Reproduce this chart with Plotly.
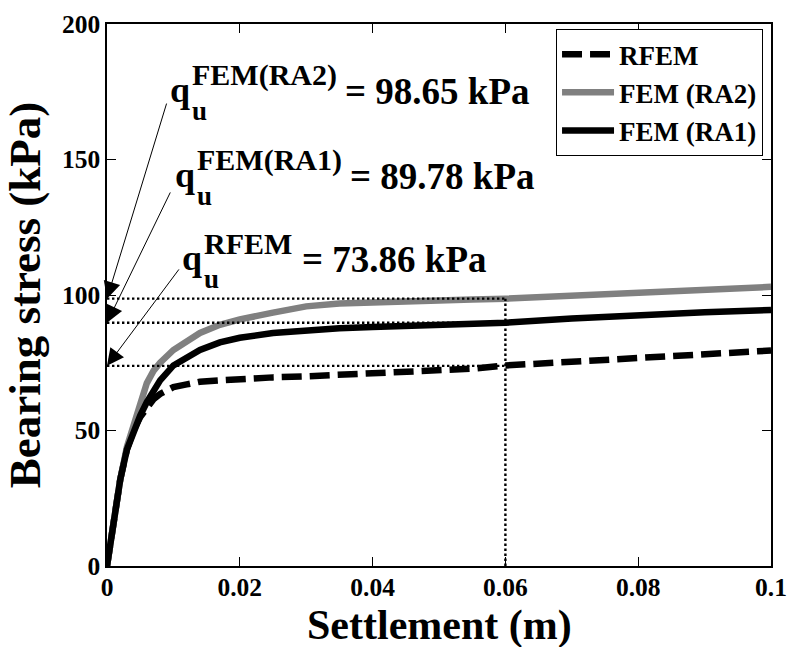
import plotly.graph_objects as go

# ---------------- data ----------------
settlement = [0, 0.001, 0.002, 0.003, 0.004, 0.005, 0.006, 0.007, 0.008, 0.01,
              0.012, 0.014, 0.017, 0.02, 0.025, 0.03, 0.035, 0.04, 0.05, 0.055,
              0.06, 0.07, 0.08, 0.09, 0.1]
rfem = [0, 16.5, 32, 43, 50, 55, 58.5, 61.5, 63.5, 66,
        67, 68, 68.5, 69, 69.6, 70, 70.5, 71, 72, 72.8,
        74, 75.5, 76.7, 78, 79.5]
fem_ra2 = [0, 16.5, 32, 44, 52.5, 61, 67.5, 72, 75, 79.7,
           83, 86, 89, 91, 93.5, 95.8, 96.9, 97.4, 98, 98.3,
           98.65, 99.8, 101, 102, 103]
fem_ra1 = [0, 16.5, 32, 43, 50, 55.5, 60.5, 65, 68.5, 74,
           77, 79.7, 82.5, 84.2, 86, 87.1, 87.7, 88.2, 89, 89.4,
           89.78, 91.3, 92.6, 93.6, 94.5]

series_names = ["RFEM", "FEM (RA2)", "FEM (RA1)"]
q_labels = ["FEM(RA2)", "FEM(RA1)", "RFEM"]
q_values = [98.65, 89.78, 73.86]
s_ref = 0.06

x_ticks = [0, 0.02, 0.04, 0.06, 0.08, 0.1]
y_ticks = [0, 50, 100, 150, 200]
x_title = "Settlement (m)"
y_title = "Bearing stress (kPa)"

FONT = "Liberation Serif, Times New Roman, serif"

fig = go.Figure()

styles = [dict(color="black", width=6.5, dash="20px,8px"),
          dict(color="#808080", width=6.5),
          dict(color="black", width=6.5)]
for name, ys, st in zip(series_names, [rfem, fem_ra2, fem_ra1], styles):
    fig.add_trace(go.Scatter(x=settlement, y=ys, mode="lines", name=name,
                             line=st))

# dotted reference lines
dot = dict(color="black", width=2.4, dash="2.4px,2.6px")
for q in q_values:
    fig.add_trace(go.Scatter(x=[0, s_ref], y=[q, q], mode="lines", line=dot,
                             showlegend=False, hoverinfo="skip"))
fig.add_trace(go.Scatter(x=[s_ref, s_ref], y=[0, max(q_values)], mode="lines",
                         line=dot, showlegend=False, hoverinfo="skip"))

# annotations: label anchor (data coords), arrow tail, equals-sign offset
label_pos = [(0.0092, 175.5), (0.0099, 144.1), (0.0110, 113.5)]
arrow_tail = [(0.00904, 171.2), (0.00964, 138.4), (0.0110, 110.0)]
eq_shift = [175, 175, 120]

annotations = []
for (lx, ly), (tx, ty), sup, q, es in zip(label_pos, arrow_tail, q_labels,
                                         q_values, eq_shift):
    annotations.append(dict(x=0, y=q, ax=tx, ay=ty, axref="x", ayref="y",
                            xref="x", yref="y", text="", showarrow=True,
                            arrowhead=2, arrowsize=3.4, arrowwidth=1,
                            arrowcolor="black", standoff=0))
    base = dict(x=lx, y=ly, xref="x", yref="y", showarrow=False,
                xanchor="left", yanchor="middle")
    annotations.append(dict(base, text="<b>q</b>",
                            font=dict(family=FONT, size=36, color="black")))
    annotations.append(dict(base, text="<b>u</b>", xshift=22, yshift=-21,
                            font=dict(family=FONT, size=27, color="black")))
    annotations.append(dict(base, text="<b>%s</b>" % sup, xshift=22, yshift=15,
                            font=dict(family=FONT, size=30, color="black")))
    annotations.append(dict(base, text="<b>= %.2f kPa</b>" % q, xshift=es,
                            yshift=-1,
                            font=dict(family=FONT, size=37, color="black")))

# x-axis title placed as a paper annotation just under the tick labels
annotations.append(dict(text="<b>%s</b>" % x_title, xref="paper", yref="paper",
                        x=0.5, y=-0.1105, xanchor="center", yanchor="middle",
                        showarrow=False,
                        font=dict(family=FONT, size=42, color="black")))

axis_common = dict(showline=True, linecolor="black", linewidth=1.5,
                   mirror="ticks", ticks="inside", ticklen=9, tickwidth=1.2,
                   tickcolor="black", showgrid=False, zeroline=False,
                   automargin=False,
                   tickfont=dict(family=FONT, size=25.5, color="black",
                                 weight="bold"))

fig.update_layout(
    width=790, height=647,
    margin=dict(l=107, r=19, t=24, b=81),
    paper_bgcolor="white", plot_bgcolor="white",
    xaxis=dict(axis_common, range=[0, 0.1], tickvals=x_ticks,
               ticktext=[("%g" % v) for v in x_ticks],
               ticklabelstandoff=-2),
    yaxis=dict(axis_common, range=[0, 200], tickvals=y_ticks,
               title=dict(text="<b>%s</b>" % y_title,
                          font=dict(family=FONT, size=45, color="black"))),
    legend=dict(x=0.988, y=0.9905, xanchor="right", yanchor="top",
                bgcolor="white", bordercolor="black", borderwidth=1,
                itemwidth=52,
                font=dict(family=FONT, size=27, color="black", weight="bold")),
    annotations=annotations,
    showlegend=True,
)

fig.write_html("out.html")
